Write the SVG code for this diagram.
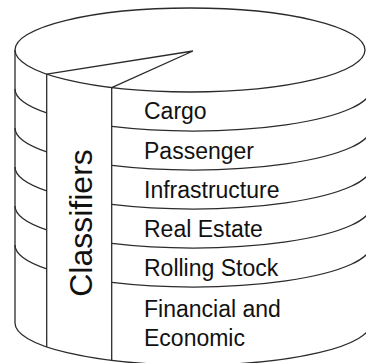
<svg xmlns="http://www.w3.org/2000/svg" width="366" height="363" viewBox="0 0 366 363">
  <style>
    .ln { fill: none; stroke: #2b2b2b; stroke-width: 1.3; }
    .lbl { font-family: "Liberation Sans", Arial, sans-serif; font-size: 23px; fill: #111; }
    .title { font-family: "Liberation Sans", Arial, sans-serif; font-size: 32px; fill: #111; }
  </style>
  <rect width="366" height="363" fill="#fff"/>

  <!-- cylinder body: outline, columns and band separators -->
  <g id="cylinder">
    <ellipse class="ln" cx="190" cy="50" rx="175" ry="42" fill="#fff"/>
    <!-- slice cut into the lid -->
    <path class="ln" d="M46.7,74.1 L193,51 L111.7,87.6"/>
    <!-- vertical edges -->
    <path class="ln" d="M15,50 V323 M46.7,74.1 V346.9 M111.7,87.6 V360.4"/>
    <!-- band separators: outer column and label column -->
    <path class="ln" d="M15,89 A178,42 0 0 0 46.7,112.9 M111.7,126.4 A178,42 0 0 0 371,89"/>
    <path class="ln" d="M15,128 A178,42 0 0 0 46.7,151.9 M111.7,165.4 A178,42 0 0 0 371,128"/>
    <path class="ln" d="M15,167 A178,42 0 0 0 46.7,190.9 M111.7,204.4 A178,42 0 0 0 371,167"/>
    <path class="ln" d="M15,206 A178,42 0 0 0 46.7,229.9 M111.7,243.4 A178,42 0 0 0 371,206"/>
    <path class="ln" d="M15,245 A178,42 0 0 0 46.7,268.9 M111.7,282.4 A178,42 0 0 0 371,245"/>
    <!-- base -->
    <path class="ln" d="M15,323 A178,42 0 0 0 371,323"/>
  </g>

  <g id="classifiers">
    <text class="title" transform="translate(92,223) rotate(-90)" text-anchor="middle">Classifiers</text>
  </g>
  <g id="cargo"><text class="lbl" x="144" y="119">Cargo</text></g>
  <g id="passenger"><text class="lbl" x="144" y="159">Passenger</text></g>
  <g id="infrastructure"><text class="lbl" x="144" y="198">Infrastructure</text></g>
  <g id="real-estate"><text class="lbl" x="144" y="237">Real Estate</text></g>
  <g id="rolling-stock"><text class="lbl" x="144" y="276">Rolling Stock</text></g>
  <g id="financial-economic">
    <text class="lbl" x="144" y="317">Financial and</text>
    <text class="lbl" x="144" y="346">Economic</text>
  </g>
</svg>
